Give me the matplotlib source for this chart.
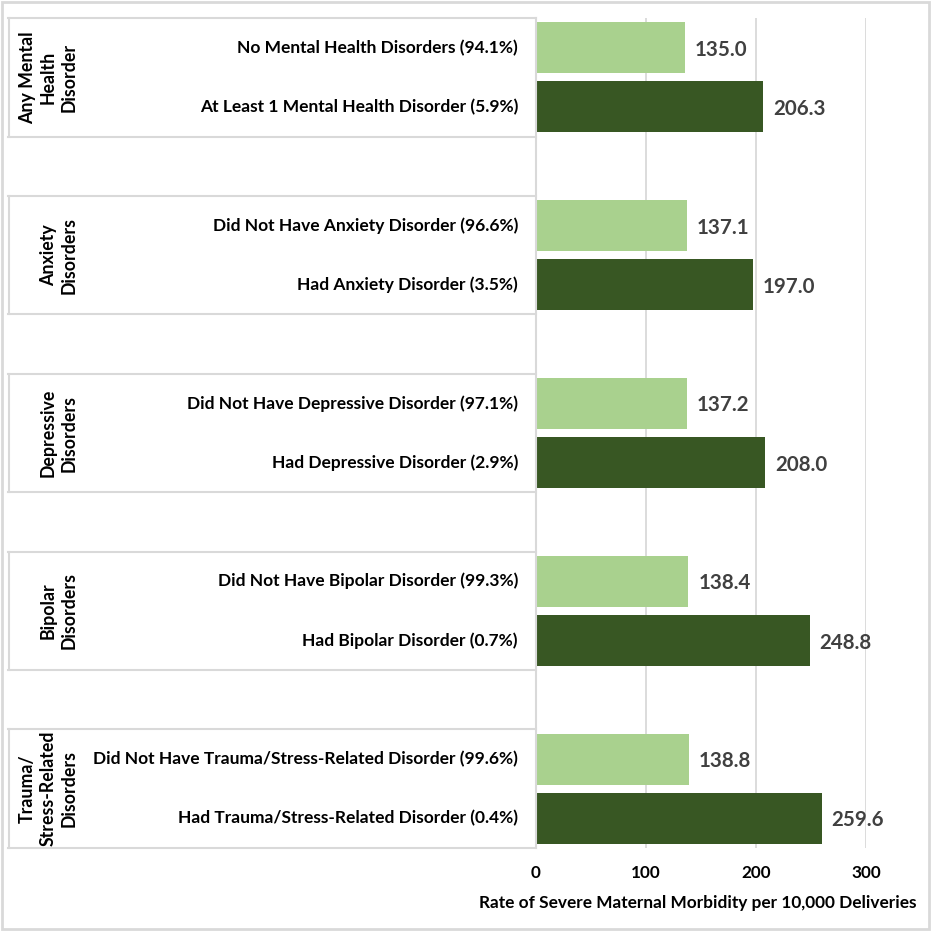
import matplotlib.pyplot as plt
from matplotlib.patches import Rectangle

plt.rcParams['font.family'] = ['Lato', 'DejaVu Sans']

# data
categories = ["Any Mental\nHealth\nDisorder", "Anxiety\nDisorders", "Depressive\nDisorders",
              "Bipolar\nDisorders", "Trauma/\nStress-Related\nDisorders"]
labels_without = ["No Mental Health Disorders (94.1%)",
                  "Did Not Have Anxiety Disorder (96.6%)",
                  "Did Not Have Depressive Disorder (97.1%)",
                  "Did Not Have Bipolar Disorder (99.3%)",
                  "Did Not Have Trauma/Stress-Related Disorder (99.6%)"]
labels_with = ["At Least 1 Mental Health Disorder (5.9%)",
               "Had Anxiety Disorder (3.5%)",
               "Had Depressive Disorder (2.9%)",
               "Had Bipolar Disorder (0.7%)",
               "Had Trauma/Stress-Related Disorder (0.4%)"]
rates_without = [135.0, 137.1, 137.2, 138.4, 138.8]
rates_with = [206.3, 197.0, 208.0, 248.8, 259.6]

LIGHT = "#A9D18E"
DARK = "#385723"
GRID = "#D9D9D9"

W = H = 931
fig = plt.figure(figsize=(W / 100, H / 100), dpi=100)

# pixel layout of the plot area
x0, x1 = 536, 866
y0, y1 = 18, 848
ax = fig.add_axes([x0 / W, 1 - y1 / H, (x1 - x0) / W, (y1 - y0) / H])
tab = fig.add_axes([8 / W, 1 - y1 / H, (x0 - 8) / W, (y1 - y0) / H])

nslots = 3 * len(categories) - 1
pos_without = [3 * g for g in range(len(categories))]
pos_with = [3 * g + 1 for g in range(len(categories))]

ax.barh(pos_without, rates_without, height=0.86, color=LIGHT, zorder=2)
ax.barh(pos_with, rates_with, height=0.86, color=DARK, zorder=2)

for p, v in zip(pos_without + pos_with, rates_without + rates_with):
    ax.annotate(f"{v:.1f}", (v, p), xytext=(10, -2), textcoords="offset pixels",
                ha="left", va="center", fontsize=14.8, fontweight="bold",
                color="#404040", annotation_clip=False)

ax.set_xlim(0, 300)
ax.set_ylim(nslots - 0.5, -0.5)
ax.set_xticks([0, 100, 200, 300])
ax.set_yticks([])
ax.grid(axis="x", color=GRID, linewidth=1.3, zorder=0)
ax.tick_params(axis="x", length=0, pad=12, labelsize=12.3)
for t in ax.get_xticklabels():
    t.set_fontweight("bold")
for s in ax.spines.values():
    s.set_visible(False)
ax.set_xlabel("Rate of Severe Maternal Morbidity per 10,000 Deliveries",
              fontsize=12.4, fontweight="bold")
ax.xaxis.set_label_coords((698 - x0) / (x1 - x0), -(903 - y1) / (y1 - y0))
ax.xaxis.label.set_va("center")

# left table with group boxes
tab.set_xlim(8, x0)
tab.set_ylim(nslots - 0.5, -0.5)
tab.axis("off")
tab.plot([x0, x0], [-0.5, nslots - 0.5], color=GRID, linewidth=1.5, clip_on=False)
for g, cat in enumerate(categories):
    top, bot = 3 * g - 0.5, 3 * g + 1.5
    tab.plot([8, x0], [top, top], color=GRID, linewidth=1.5, clip_on=False)
    tab.plot([8, x0], [bot, bot], color=GRID, linewidth=1.5, clip_on=False)
    tab.plot([9, 9], [top, bot], color=GRID, linewidth=1.5, clip_on=False)
    tab.text(78, 3 * g + 0.5, cat, rotation=90, ha="right", va="center",
             multialignment="center", fontsize=12.8, fontweight="bold", linespacing=1.28)
    tab.text(518, pos_without[g], labels_without[g], ha="right", va="center",
             fontsize=12.5, fontweight="bold")
    tab.text(518, pos_with[g], labels_with[g], ha="right", va="center",
             fontsize=12.5, fontweight="bold")

# outer frame
fig.patches.append(Rectangle((2 / W, 2 / H), 1 - 4 / W, 1 - 4 / H, transform=fig.transFigure,
                             fill=False, edgecolor=GRID, linewidth=2))

fig.savefig("out.png", dpi=100, facecolor="white")
